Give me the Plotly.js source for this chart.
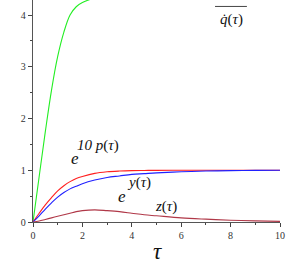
<!DOCTYPE html>
<html>
<head>
<meta charset="utf-8">
<script src="https://cdn.plot.ly/plotly-3.0.1.min.js"></script>
<style>html,body{margin:0;padding:0;background:#fff;}#plot{width:299px;height:268px;}</style>
</head>
<body>
<div id="plot"></div>
<script>
var tau = [0,0.25,0.5,0.75,1,1.25,1.5,1.75,2,2.5,3,3.5,4,4.5,5,6,7,8,9,10];
var qInv = [0,0.88,1.75,2.55,3.2,3.67,4.0,4.16,4.24,4.33,4.38,4.41,4.43,4.44,4.45,4.46,4.47,4.47,4.48,4.48];
var eP = [0,0.17,0.33,0.47,0.6,0.7,0.78,0.84,0.88,0.94,0.97,0.985,0.993,0.996,0.998,1,1,1,1,1];
var eY = [0,0.12,0.25,0.37,0.48,0.57,0.64,0.69,0.74,0.81,0.86,0.89,0.92,0.935,0.95,0.97,0.985,0.992,0.997,1.0];
var zT = [0,0.02,0.05,0.08,0.11,0.14,0.17,0.2,0.22,0.235,0.22,0.2,0.17,0.14,0.12,0.08,0.055,0.035,0.022,0.013];
var xTicks = [0,2,4,6,8,10];
var yTicks = [0,1,2,3,4];

function tr(y, c){ return {x:tau, y:y, mode:'lines', line:{color:c, width:1.1, shape:'spline'}, hoverinfo:'none'}; }
var data = [tr(qInv,'#22ee22'), tr(eP,'#ff2020'), tr(eY,'#2020ff'), tr(zT,'#b03848')];

var serif = '"Liberation Serif", "Times New Roman", serif';
function ann(x, y, t, s){
  return {x:x, y:y, xref:'x', yref:'y', text:t, showarrow:false, font:{family:serif, size:s, color:'#111'}, xanchor:'center', yanchor:'middle'};
}
var layout = {
  width:299, height:268,
  margin:{l:33, r:19, t:0, b:46},
  paper_bgcolor:'#fff', plot_bgcolor:'#fff',
  showlegend:false,
  font:{family:serif, size:10},
  xaxis:{range:[0,10], tickvals:xTicks, ticktext:xTicks.map(String), ticks:'outside', ticklen:4, tickcolor:'#444',
    showline:true, linecolor:'#555', linewidth:1.2, showgrid:false, zeroline:false,
    minor:{tickvals:[1,3,5,7,9], ticks:'outside', ticklen:2, tickcolor:'#444'},
    tickfont:{family:serif, size:10, color:'#333'}},
  yaxis:{range:[0,4.29], tickvals:yTicks, ticktext:yTicks.map(String), ticks:'outside', ticklen:4, tickcolor:'#444',
    showline:true, linecolor:'#555', linewidth:1.2, showgrid:false, zeroline:false,
    minor:{tickvals:[0.5,1.5,2.5,3.5], ticks:'outside', ticklen:2, tickcolor:'#444'},
    tickfont:{family:serif, size:10, color:'#333'}},
  annotations:[
    ann(1.68, 1.22, '<i>e</i>', 17),
    ann(2.63, 1.47, '<i>10 p</i>(<i>τ</i>)', 15),
    ann(3.62, 0.50, '<i>e</i>', 17),
    ann(4.3, 0.755, '<i>y</i>(<i>τ</i>)', 15),
    ann(5.4, 0.29, '<i>z</i>(<i>τ</i>)', 15),
    {x:0.504, y:-0.135, xref:'paper', yref:'paper', text:'<i>τ</i>', showarrow:false, font:{family:serif, size:23, color:'#111'}, xanchor:'center', yanchor:'middle'},
    {x:0.802, y:0.91, xref:'paper', yref:'paper', text:'<i>q̇</i>(<i>τ</i>)', showarrow:false, font:{family:serif, size:15, color:'#111'}, xanchor:'center', yanchor:'middle'},
    {x:0.80, y:0.985, xref:'paper', yref:'paper', text:'1', showarrow:false, font:{family:serif, size:15, color:'#111'}, xanchor:'center', yanchor:'bottom'}
  ],
  shapes:[{type:'line', xref:'paper', yref:'paper', x0:0.737, x1:0.866, y0:0.971, y1:0.971, line:{color:'#444', width:1}}]
};
Plotly.newPlot('plot', data, layout, {staticPlot:true, displayModeBar:false});
</script>
</body>
</html>
